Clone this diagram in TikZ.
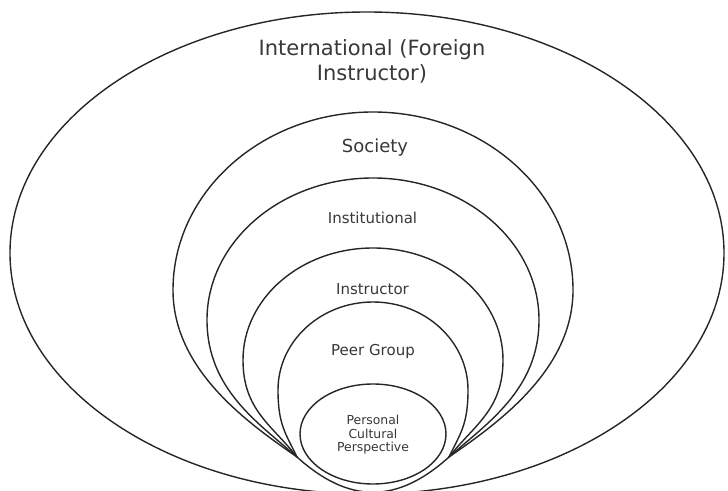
\documentclass[tikz,border=0pt]{standalone}
\usepackage{fontspec}
\setmainfont{DejaVu Sans}
\usepackage{tikz}
\usepackage{xcolor}
\usetikzlibrary{positioning, calc}
\tikzstyle{ring} = [draw=black!85, line width=1.4pt]
\tikzstyle{layertext} = [text=black!78, inner sep=0pt, align=center]

\begin{document}
\begin{tikzpicture}[x=1pt, y=1pt]
    \useasboundingbox (0,0) rectangle (728,490);

    % Punti dove si incontrano i livelli
    \coordinate (pl) at (297,33);
    \coordinate (pr) at (449,33);

    % Ellisse esterna e ellisse interna
    \draw [ring] (367,237) ellipse [x radius=357, y radius=241];

    % Livelli intermedi
    \draw [ring] (pl) .. controls (248,67) and (173,120) .. (173,200)
        arc [start angle=180, end angle=0, x radius=200, y radius=178]
        .. controls (573,120) and (498,67) .. (pr)
        .. controls (397,-14) and (349,-14) .. (pl);
    \draw [ring] (pl) .. controls (260,66) and (207,100) .. (207,170)
        arc [start angle=180, end angle=0, x radius=166, y radius=142]
        .. controls (539,100) and (486,66) .. (pr);
    \draw [ring] (pl) .. controls (272,65) and (243,80) .. (243,130)
        arc [start angle=180, end angle=0, x radius=130, y radius=112]
        .. controls (503,80) and (474,65) .. (pr);
    \draw [ring] (pl) .. controls (286,56) and (278,65) .. (278,100)
        arc [start angle=180, end angle=0, x radius=95, y radius=88]
        .. controls (468,65) and (460,56) .. (pr);

    \draw [ring, fill=white] (373,56) ellipse [x radius=73, y radius=50];

    % Etichette
    \node (intl) [layertext, font=\fontsize{21}{25}\selectfont] at (372,429) {International (Foreign\\Instructor)};
    \node (society) [layertext, anchor=base, font=\fontsize{18}{22}\selectfont] at (375,337) {Society};
    \node (institutional) [layertext, anchor=base, font=\fontsize{15}{18}\selectfont] at (372.5,266) {Institutional};
    \node (instructor) [layertext, anchor=base, font=\fontsize{15}{18}\selectfont] at (372.5,195) {Instructor};
    \node (peer) [layertext, anchor=base, font=\fontsize{15}{18}\selectfont] at (373,134) {Peer Group};
    \node (personal) [layertext, font=\fontsize{12.4}{13.5}\selectfont] at (373,55) {Personal\\Cultural\\Perspective};

\end{tikzpicture}
\end{document}
